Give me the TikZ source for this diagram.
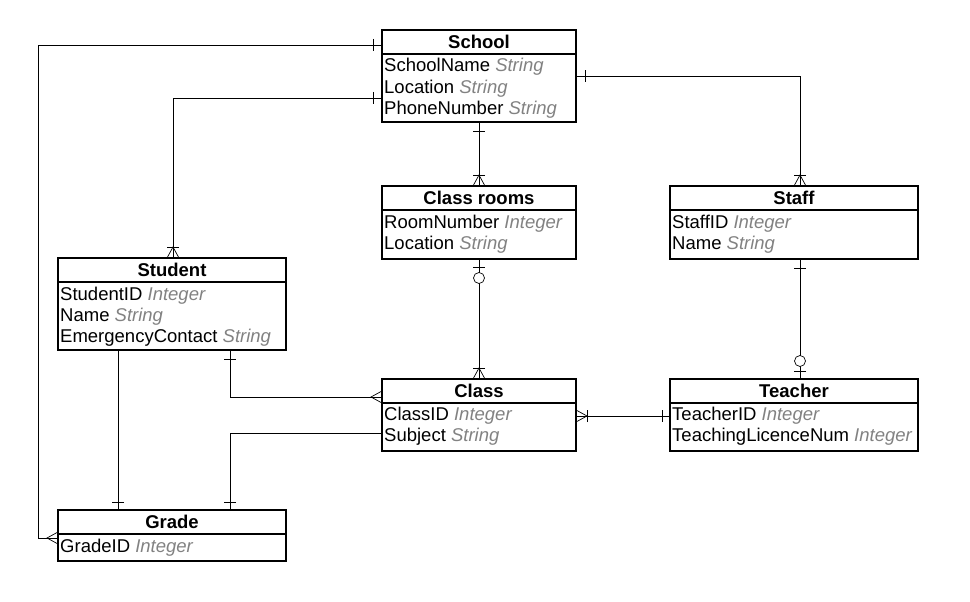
\documentclass[tikz,border=0pt]{standalone}
\usepackage{fontspec}
\setmainfont{Liberation Sans}
\definecolor{ty}{RGB}{130,130,130}
\tikzset{
  box/.style={draw=black,line width=1.2pt},
  hd/.style={font=\fontsize{18.5}{20}\selectfont\bfseries,anchor=center,inner sep=0},
  att/.style={font=\fontsize{18.5}{20}\selectfont,anchor=west,inner sep=0},
  ln/.style={line width=0.7pt},
}
\newcommand{\ty}[1]{{\color{ty}\itshape #1}}
\newcommand{\entity}[7]{%
  \draw[box] (#2,#3) rectangle (#4,#6);
  \draw[box] (#2,#5) -- (#4,#5);
  \node[hd] (#1) at ({(#2+#4)/2},{(#3+#5)/2}) {#7};
}
% markers: point, canvas angle pointing away from box
\newcommand{\mcrow}[2]{\begin{scope}[shift={(#1)},rotate=#2]\draw[ln] (0,6)--(11,0)--(0,-6);\end{scope}}
\newcommand{\mbar}[3]{\begin{scope}[shift={(#1)},rotate=#2]\draw[ln] (#3,6)--(#3,-6);\end{scope}}
\newcommand{\mcirc}[3]{\begin{scope}[shift={(#1)},rotate=#2]\draw[ln,fill=white] (#3,0) circle[radius=5.5];\end{scope}}
\begin{document}
\begin{tikzpicture}[x=1pt,y=-1pt]
\useasboundingbox[fill=white] (0,0) rectangle (970,602);
\entity{school}{382}{30}{576}{54}{122}{School}
\node[att] (s1) at (384,67) {SchoolName \ty{String}};
\node[att] (s2) at (384,89) {Location \ty{String}};
\node[att] (s3) at (384,110) {PhoneNumber \ty{String}};
\entity{rooms}{382}{186}{576}{210}{259}{Class rooms}
\node[att] (r1) at (384,224) {RoomNumber \ty{Integer}};
\node[att] (r2) at (384,245) {Location \ty{String}};
\entity{staff}{670}{186}{918}{210}{259}{Staff}
\node[att] (f1) at (672,224) {StaffID \ty{Integer}};
\node[att] (f2) at (672,245) {Name \ty{String}};
\entity{student}{58}{258}{286}{282}{350}{Student}
\node[att] (t1) at (60,296) {StudentID \ty{Integer}};
\node[att] (t2) at (60,317) {Name \ty{String}};
\node[att] (t3) at (60,338) {EmergencyContact \ty{String}};
\entity{class}{382}{379}{576}{403}{451}{Class}
\node[att] (c1) at (384,416) {ClassID \ty{Integer}};
\node[att] (c2) at (384,437) {Subject \ty{String}};
\entity{teacher}{670}{379}{918}{403}{451}{Teacher}
\node[att] (e1) at (672,416) {TeacherID \ty{Integer}};
\node[att] (e2) at (672,437) {TeachingLicenceNum \ty{Integer}};
\entity{grade}{58}{510}{286}{534}{561}{Grade}
\node[att] (g1) at (60,548) {GradeID \ty{Integer}};
% connection points
\coordinate (pA) at (382,45); \coordinate (pA2) at (58,538);
\coordinate (pB) at (382,98); \coordinate (pB2) at (173,258);
\coordinate (pC) at (479,122); \coordinate (pC2) at (479,186);
\coordinate (pD) at (576,76); \coordinate (pD2) at (800,186);
\coordinate (pE) at (479,259); \coordinate (pE2) at (479,379);
\coordinate (pF) at (800,259); \coordinate (pF2) at (800,379);
\coordinate (pG) at (230,350); \coordinate (pG2) at (382,397);
\coordinate (pH) at (576,416); \coordinate (pH2) at (670,416);
\coordinate (pI) at (118,350); \coordinate (pI2) at (118,510);
\coordinate (pJ) at (382,433); \coordinate (pJ2) at (230,510);
\draw[ln] (pA) -- (38,45) |- (pA2);
\draw[ln] (pB) -| (pB2);
\draw[ln] (pC) -- (pC2);
\draw[ln] (pD) -| (pD2);
\draw[ln] (pE) -- (pE2);
\draw[ln] (pF) -- (pF2);
\draw[ln] (pG) |- (pG2);
\draw[ln] (pH) -- (pH2);
\draw[ln] (pI) -- (pI2);
\draw[ln] (pJ) -| (pJ2);
% markers
\mbar{pA}{180}{9} \mcrow{pA2}{180}
\mbar{pB}{180}{9} \mcrow{pB2}{90} \mbar{pB2}{90}{11}
\mbar{pC}{-90}{9} \mcrow{pC2}{90} \mbar{pC2}{90}{11}
\mbar{pD}{0}{9} \mcrow{pD2}{90} \mbar{pD2}{90}{11}
\mbar{pE}{-90}{8} \mcirc{pE}{-90}{19} \mcrow{pE2}{90} \mbar{pE2}{90}{11}
\mbar{pF}{-90}{9} \mbar{pF2}{90}{8} \mcirc{pF2}{90}{18}
\mbar{pG}{-90}{9} \mcrow{pG2}{180}
\mcrow{pH}{0} \mbar{pH}{0}{11} \mbar{pH2}{180}{8}
\mbar{pI2}{90}{8}
\mbar{pJ2}{90}{8}
\end{tikzpicture}
\end{document}
